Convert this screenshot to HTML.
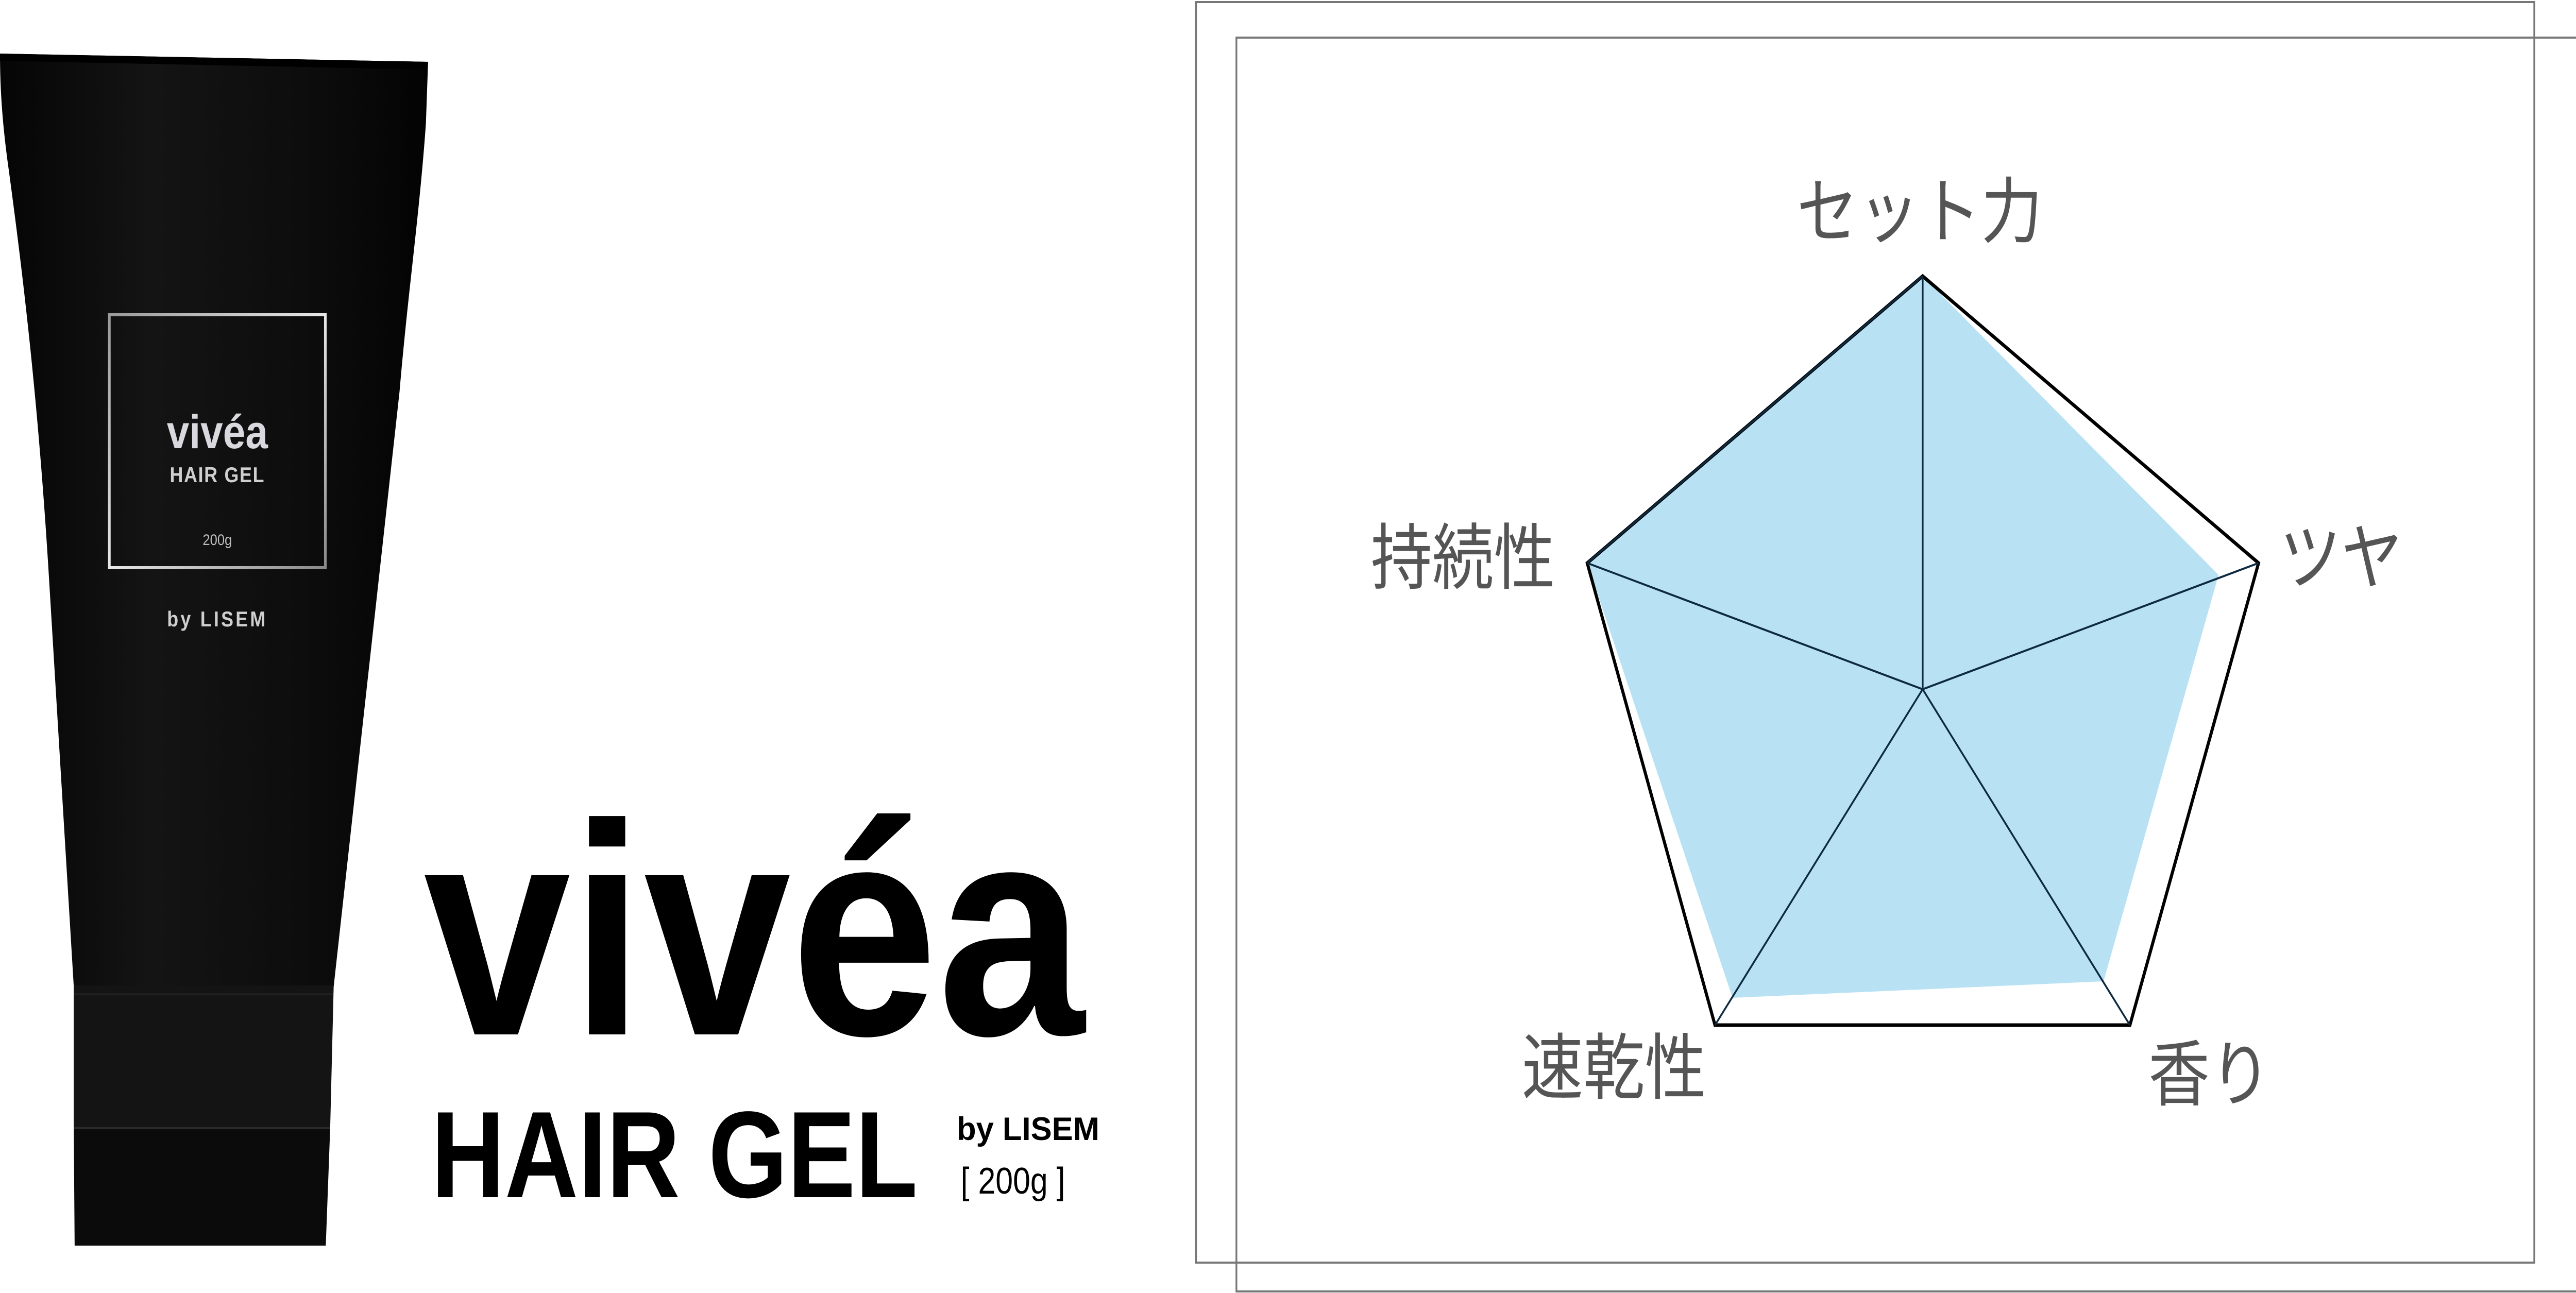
<!DOCTYPE html>
<html><head><meta charset="utf-8"><style>
html,body{margin:0;padding:0;background:#fff;width:100%;height:100%;overflow:hidden;}
svg{display:block;position:fixed;left:0;top:0;width:100vw;height:100vh;}
</style></head><body>
<svg viewBox="0 0 5867 2510" preserveAspectRatio="none" xmlns="http://www.w3.org/2000/svg">
<defs>
<linearGradient id="tube" x1="0" x2="1" y1="0" y2="0">
<stop offset="0" stop-color="#050505"/><stop offset="0.35" stop-color="#141414"/><stop offset="0.75" stop-color="#0c0c0c"/><stop offset="1" stop-color="#030303"/>
</linearGradient>
<linearGradient id="silver" x1="0" x2="1" y1="0" y2="1">
<stop offset="0" stop-color="#9a9a9a"/><stop offset="0.5" stop-color="#e8e8e8"/><stop offset="1" stop-color="#8a8a8a"/>
</linearGradient>
</defs>
<rect width="5867" height="2510" fill="#fff"/>
<path d="M0,104 L975,120 L970,240 C955,420 930,560 910,760 L760,1915 L168,1915 L110,1100 C85,760 50,520 20,330 C5,240 0,170 0,104 Z" fill="url(#tube)"/>
<path d="M0,104 L975,120 L973,135 L0,118 Z" fill="#000"/>
<path d="M168,1913 L760,1913 L752,2190 L168,2190 Z" fill="#141414"/>
<path d="M168,2190 L752,2190 L742,2418 L170,2418 Z" fill="#0b0b0b"/>
<line x1="168" y1="2190" x2="752" y2="2190" stroke="#2a2a2a" stroke-width="4"/>
<line x1="168" y1="1930" x2="758" y2="1930" stroke="#222" stroke-width="3"/>
<rect x="249" y="611" width="492" height="491" fill="none" stroke="url(#silver)" stroke-width="6"/>
<text x="495" y="870" text-anchor="middle" font-family="Liberation Sans, sans-serif" font-weight="bold" font-size="92" fill="#d8d8de">vivéa</text>
<text x="495" y="936" text-anchor="middle" font-family="Liberation Sans, sans-serif" font-weight="bold" font-size="42" fill="#cfcfcf" letter-spacing="2">HAIR GEL</text>
<text x="495" y="1058" text-anchor="middle" font-family="Liberation Sans, sans-serif" font-size="30" fill="#bbb">200g</text>
<text x="495" y="1216" text-anchor="middle" font-family="Liberation Sans, sans-serif" font-weight="bold" font-size="42" fill="#cfcfcf" letter-spacing="5">by LISEM</text>
<text x="965" y="2008" font-family="Liberation Sans, sans-serif" font-weight="bold" font-size="585" fill="#000" textLength="1505" lengthAdjust="spacingAndGlyphs">vivéa</text>
<text x="982" y="2324" font-family="Liberation Sans, sans-serif" font-weight="bold" font-size="239" fill="#000" textLength="1108" lengthAdjust="spacingAndGlyphs">HAIR GEL</text>
<text x="2179" y="2213" font-family="Liberation Sans, sans-serif" font-weight="bold" font-size="63" fill="#000" textLength="325" lengthAdjust="spacingAndGlyphs">by LISEM</text>
<text x="2188" y="2317" font-family="Liberation Sans, sans-serif" font-size="72" fill="#000" textLength="238" lengthAdjust="spacingAndGlyphs">[ 200g ]</text>
<rect x="2724" y="4" width="3048" height="2447" fill="none" stroke="#777" stroke-width="4"/>
<rect x="2816" y="73" width="3060" height="2434" fill="none" stroke="#777" stroke-width="4"/>
<polygon points="4379,536 5053,1116 4791,1905 3946,1937 3615,1093" fill="#b8e2f4"/>
<polygon points="4379,536 5144,1093 4851,1990 3906,1990 3615,1093" fill="none" stroke="#000" stroke-width="7" stroke-linejoin="miter"/>
<g stroke="#0e2a40" stroke-width="4">
<line x1="4379" y1="1338" x2="4379" y2="536"/>
<line x1="4379" y1="1338" x2="5144" y2="1093"/>
<line x1="4379" y1="1338" x2="4851" y2="1990"/>
<line x1="4379" y1="1338" x2="3906" y2="1990"/>
<line x1="4379" y1="1338" x2="3615" y2="1093"/>
<line x1="4379" y1="536" x2="3615" y2="1093"/>
</g>
<g font-family="Liberation Sans, 'Noto Sans CJK JP', sans-serif" font-size="140" fill="#555">
<text x="4372" y="460" text-anchor="middle">セット力</text>
<text x="3332" y="1132" text-anchor="middle">持続性</text>
<text x="5332" y="1132" text-anchor="middle">ツヤ</text>
<text x="3676" y="2122" text-anchor="middle">速乾性</text>
<text x="5033" y="2135" text-anchor="middle">香り</text>
</g>
</svg>
</body></html>
